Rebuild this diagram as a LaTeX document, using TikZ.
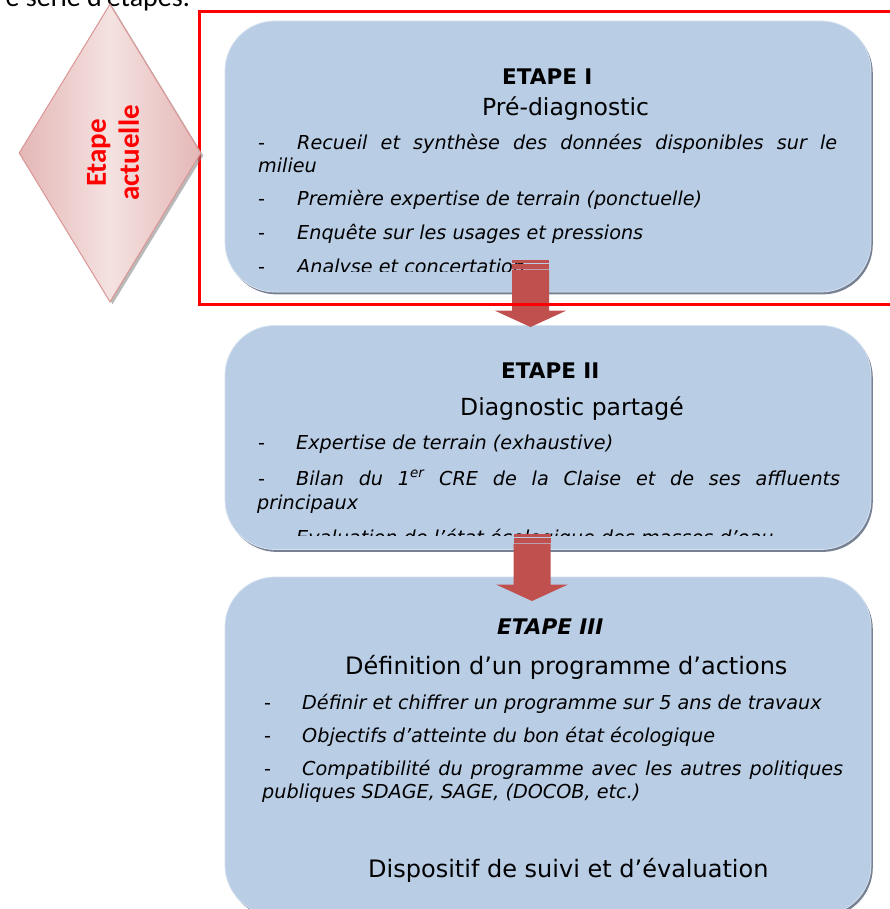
\documentclass[tikz,border=0pt]{standalone}
\usepackage{fontspec}
\setmainfont{DejaVu Sans}
\newfontfamily\carlito{Carlito}
\usetikzlibrary{shapes.geometric,shadows}
\definecolor{boxfill}{HTML}{B9CDE5}
\definecolor{boxshadow}{HTML}{6F7C8E}
\definecolor{boxlight}{HTML}{D6E2F0}
\definecolor{arrowred}{HTML}{C0504D}
\definecolor{diafill}{HTML}{F4E2E1}
\definecolor{diadark}{HTML}{E4B7B6}
\definecolor{diaborder}{HTML}{D99694}
\tikzset{
  stagebox/.style={rounded corners=50pt, fill=boxfill, draw=boxlight, line width=0.8pt,
    drop shadow={shadow xshift=1.8pt, shadow yshift=-2.4pt, fill=boxshadow, opacity=0.95}},
  bodytext/.style={anchor=base west, inner sep=0pt, font=\fontsize{19.2}{23}\selectfont\itshape},
  dashtext/.style={anchor=base west, inner sep=0pt, font=\fontsize{19.2}{23}\selectfont},
  headtext/.style={anchor=base west, inner sep=0pt, font=\fontsize{23.5}{28}\selectfont},
  stagetitle/.style={anchor=base west, inner sep=0pt, font=\fontsize{21.5}{26}\selectfont\bfseries},
  stripearrow/.pic={
    \fill[arrowred] (-18.5,0) rectangle (18.5,2.5);
    \fill[arrowred] (-18.5,3.6) rectangle (18.5,8.6);
    \fill[arrowred] (-18.5,9.7) -- (18.5,9.7) -- (18.5,50.5) -- (36,50.5) -- (0,67)
      -- (-36,50.5) -- (-18.5,50.5) -- cycle;
  }
}
\begin{document}
\begin{tikzpicture}[x=1pt,y=-1pt]
\clip (0,0) rectangle (890,909);
\fill[white] (0,0) rectangle (890,909);

% text cut off at the top of the page
\node[anchor=base east, inner sep=0pt, font=\carlito\fontsize{28}{30}\selectfont] (intro) at (190,7) {e série d’étapes.};

% boxes
\node[stagebox, minimum width=646pt, minimum height=271pt, inner sep=0pt] (b1) at (548,156.5) {};
\node[stagebox, minimum width=646pt, minimum height=224pt, inner sep=0pt] (b2) at (548,437.5) {};
\node[stagebox, minimum width=646pt, minimum height=338pt, inner sep=0pt] (b3) at (548,746) {};

% box 1 text
\begin{scope}
\clip (225,21) rectangle (871,271);
\node[stagetitle] (t1) at (502,85) {ETAPE I};
\node[headtext] (h1) at (482,116) {Pré-diagnostic};
\node[dashtext] (d11) at (258,150) {-};
\node[bodytext] (l11) at (297,150) {\makebox[540pt][s]{Recueil et synthèse des données disponibles sur le}};
\node[bodytext] (l11b) at (258,173) {milieu};
\node[dashtext] (d12) at (258,206) {-};
\node[bodytext] (l12) at (297,206) {Première expertise de terrain (ponctuelle)};
\node[dashtext] (d13) at (258,240) {-};
\node[bodytext] (l13) at (297,240) {Enquête sur les usages et pressions};
\node[dashtext] (d14) at (258,273) {-};
\node[bodytext] (l14) at (297,273) {Analyse et concertation};
\end{scope}

% box 2 text
\begin{scope}
\clip (225,326) rectangle (871,535);
\node[stagetitle] (t2) at (501,378) {ETAPE II};
\node[headtext] (h2) at (460,415) {Diagnostic partagé};
\node[dashtext] (d21) at (258,449) {-};
\node[bodytext] (l21) at (296,449) {Expertise de terrain (exhaustive)};
\node[dashtext] (d22) at (258,485) {-};
\node[bodytext] (l22) at (296,485) {\makebox[544pt][s]{Bilan du 1\textsuperscript{er} CRE de la Claise et de ses affluents}};
\node[bodytext] (l22b) at (257,509) {principaux};
\node[dashtext] (d23) at (258,544) {-};
\node[bodytext] (l23) at (296,544) {Evaluation de l’état écologique des masses d’eau};
\end{scope}

% box 3 text
\node[stagetitle, font=\fontsize{21.5}{26}\selectfont\bfseries\itshape] (t3) at (497,634) {ETAPE III};
\node[headtext, font=\fontsize{24}{28}\selectfont] (h3) at (345,674) {Définition d’un programme d’actions};
\node[dashtext] (d31) at (264,709) {-};
\node[bodytext] (l31) at (302,709) {Définir et chiffrer un programme sur 5 ans de travaux};
\node[dashtext] (d32) at (264,742) {-};
\node[bodytext] (l32) at (302,742) {Objectifs d’atteinte du bon état écologique};
\node[dashtext] (d33) at (264,775) {-};
\node[bodytext] (l33) at (302,775) {\makebox[541pt][s]{Compatibilité du programme avec les autres politiques}};
\node[bodytext] (l33b) at (262,798) {publiques SDAGE, SAGE, (DOCOB, etc.)};
\node[headtext, font=\fontsize{24}{28}\selectfont] (h3b) at (368,877) {Dispositif de suivi et d’évaluation};

% block arrows
\pic (arr1) at (530.5,260) {stripearrow};
\pic (arr2) at (532,534) {stripearrow};

% current-stage frame
\draw[red, line width=3pt] (199,12) rectangle (905,304);

% diamond
\node[diamond, minimum width=182pt, minimum height=298pt, inner sep=0pt,
      left color=diadark, right color=diadark, middle color=diafill, draw=diaborder, line width=1pt,
      drop shadow={shadow xshift=2.5pt, shadow yshift=-2.5pt, fill=gray, opacity=0.55}] (dia) at (110,153) {};
\node[rotate=90, align=center, text=red, inner sep=0pt,
      font=\carlito\bfseries\fontsize{29}{33}\selectfont] (diatext) at ([xshift=3pt]dia.center) {Etape\\actuelle};
\end{tikzpicture}
\end{document}
